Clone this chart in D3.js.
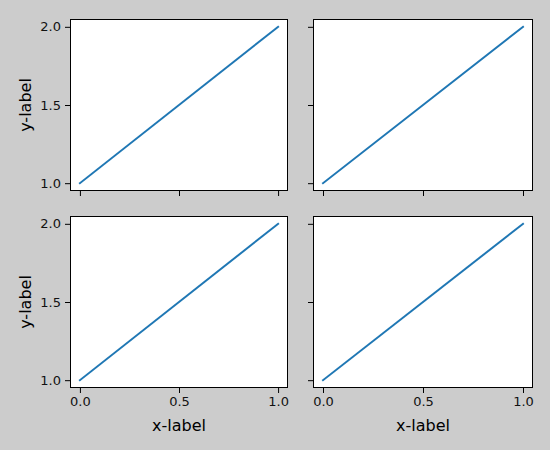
<!DOCTYPE html>
<html><head><meta charset="utf-8">
<script src="https://cdn.jsdelivr.net/npm/d3@7"></script>
<style>body{margin:0;background:#cccccc;} svg{display:block;}</style>
</head><body>
<svg id="c" width="550" height="450"></svg>
<script>
const xValues = [0, 1];
const yValues = [1, 2];
const xTicks = [0, 0.5, 1];
const yTicks = [1, 1.5, 2];
const xLabel = "x-label";
const yLabel = "y-label";

const svg = d3.select("#c");
svg.append("rect").attr("width",550).attr("height",450).attr("fill","#cccccc");

const cols = [[70,288],[313,533]];
const rows = [[19,191],[216,388]];
const font = "DejaVu Sans, sans-serif";

function pad(a,b){const m=(b-a)*0.05;return [a-m,b+m];}
const xd = pad(d3.min(xValues), d3.max(xValues));
const yd = pad(d3.min(yValues), d3.max(yValues));

rows.forEach((r,ri)=>{
  cols.forEach((c,ci)=>{
    const x = d3.scaleLinear().domain(xd).range(c);
    const y = d3.scaleLinear().domain(yd).range([r[1],r[0]]);
    const g = svg.append("g");
    g.append("rect").attr("x",c[0]).attr("y",r[0]).attr("width",c[1]-c[0]).attr("height",r[1]-r[0]).attr("fill","#fff");
    g.append("path").datum(xValues.map((v,i)=>[v,yValues[i]]))
      .attr("d", d3.line().x(d=>x(d[0])).y(d=>y(d[1])))
      .attr("fill","none").attr("stroke","#1f77b4").attr("stroke-width",2).attr("stroke-linecap","square");
    const xa = d3.axisBottom(x).tickValues(xTicks).tickSize(5).tickPadding(4)
      .tickFormat(ri===1 ? d3.format(".1f") : ()=> "");
    const gx = g.append("g").attr("transform",`translate(0,${r[1]})`).call(xa);
    const ya = d3.axisLeft(y).tickValues(yTicks).tickSize(5).tickPadding(4)
      .tickFormat(ci===0 ? d3.format(".1f") : ()=> "");
    const gy = g.append("g").attr("transform",`translate(${c[0]},0)`).call(ya);
    [gx,gy].forEach(a=>{
      a.select(".domain").remove();
      a.selectAll("line").attr("stroke","#000").attr("stroke-width",1);
      a.selectAll("text").attr("fill","#111").style("font-family",font).style("font-size","13px");
    });
    g.append("rect").attr("x",c[0]+0.5).attr("y",r[0]+0.5).attr("width",c[1]-c[0]-1).attr("height",r[1]-r[0]-1)
      .attr("fill","none").attr("stroke","#000").attr("stroke-width",1);
    if(ri===1){
      g.append("text").attr("x",(c[0]+c[1])/2).attr("y",431).attr("text-anchor","middle")
        .style("font-family",font).style("font-size","16px").attr("fill","#000").text(xLabel);
    }
    if(ci===0){
      g.append("text").attr("transform",`translate(31,${(r[0]+r[1])/2}) rotate(-90)`).attr("text-anchor","middle")
        .style("font-family",font).style("font-size","16px").attr("fill","#000").text(yLabel);
    }
  });
});
</script>
</body></html>
